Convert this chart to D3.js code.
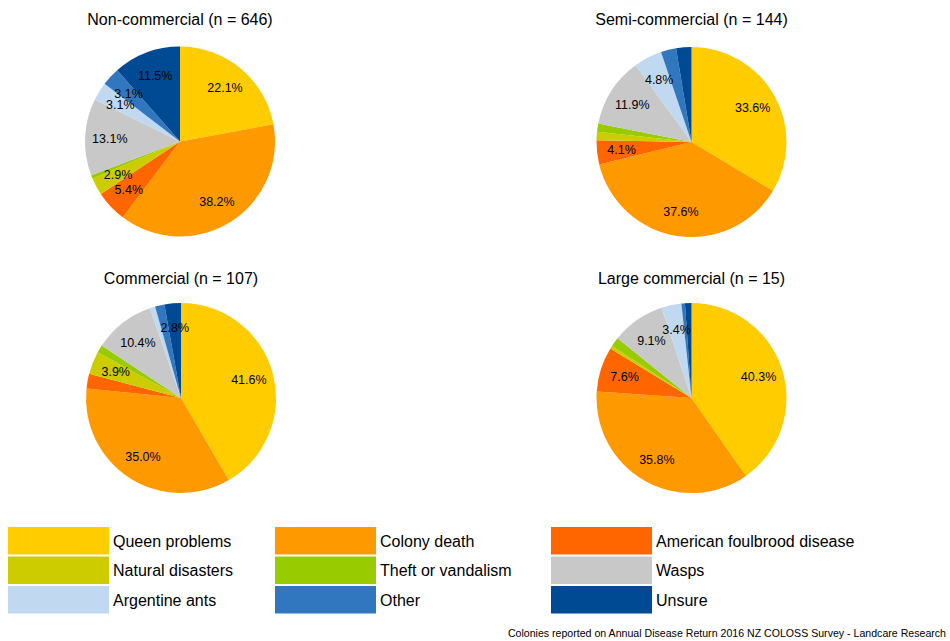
<!DOCTYPE html>
<html><head><meta charset="utf-8">
<script src="https://cdn.jsdelivr.net/npm/d3@7"></script>
<style>body{margin:0;background:#fff;}svg{display:block;font-family:"Liberation Sans",Arial,sans-serif;}</style>
</head><body><svg id="c" width="950" height="641"></svg>
<script>
const categories = ["Queen problems","Colony death","American foulbrood disease","Natural disasters","Theft or vandalism","Wasps","Argentine ants","Other","Unsure"];
const colors = ["#FFCC00","#FF9900","#FF6600","#CCCC00","#99CC00","#C8C8C8","#C0D8F0","#3077BF","#004A94"];
const panelTitles = ["Non-commercial (n = 646)","Semi-commercial (n = 144)","Commercial (n = 107)","Large commercial (n = 15)"];
const nonCommercial = [22.1,38.2,5.4,2.9,0.6,13.1,3.1,3.1,11.5];
const semiCommercial = [33.6,37.6,4.1,1.4,1.4,11.9,4.8,2.6,2.6];
const commercial = [41.6,35.0,2.5,3.9,1.3,10.4,0.9,1.6,2.8];
const largeCommercial = [40.3,35.8,7.6,0.5,1.6,9.1,3.4,0.6,1.1];
const footnote = "Colonies reported on Annual Disease Return 2016 NZ COLOSS Survey - Landcare Research";

const svg = d3.select("#c");
const panels = [
  {title: panelTitles[0], values: nonCommercial, cx: 180, cy: 141.5, ty: 25},
  {title: panelTitles[1], values: semiCommercial, cx: 691.5, cy: 142, ty: 25},
  {title: panelTitles[2], values: commercial, cx: 181, cy: 398, ty: 284},
  {title: panelTitles[3], values: largeCommercial, cx: 691.5, cy: 398, ty: 284}
];
const R = 95;
const pie = d3.pie().sort(null).value(d => d);
const arc = d3.arc().innerRadius(0).outerRadius(R);
const labelArc = d3.arc().innerRadius(R*0.74).outerRadius(R*0.74);
const color = d3.scaleOrdinal().domain(d3.range(categories.length)).range(colors);

panels.forEach(p => {
  svg.append("text").attr("x", p.cx).attr("y", p.ty).attr("text-anchor","middle")
    .attr("font-size", 16).attr("fill","#000").text(p.title);
  const g = svg.append("g").attr("transform", `translate(${p.cx},${p.cy})`);
  const arcs = pie(p.values);
  g.selectAll("path").data(arcs).join("path")
    .attr("d", arc).attr("fill", (d,i) => color(i));
  g.selectAll("text").data(arcs.filter(d => d.data >= 2.75)).join("text")
    .attr("transform", d => `translate(${labelArc.centroid(d)})`)
    .attr("text-anchor","middle").attr("dy","0.35em")
    .attr("font-size", 12.5).attr("fill","#000")
    .text(d => d3.format(".1f")(d.data) + "%");
});

// Legend
const colX = d3.scaleOrdinal().domain([0,1,2]).range([8, 275, 551]);
const rowY = d3.scaleOrdinal().domain([0,1,2]).range([527, 556.5, 586]);
const lg = svg.append("g");
categories.forEach((c, i) => {
  const col = i % 3, row = Math.floor(i / 3);
  lg.append("rect").attr("x", colX(col)).attr("y", rowY(row)).attr("width", 101).attr("height", 27.5).attr("fill", color(i));
  lg.append("text").attr("x", colX(col) + 105).attr("y", rowY(row) + 14).attr("dy","0.35em")
    .attr("font-size", 16).attr("fill","#000").text(c);
});

svg.append("text").attr("x", 946).attr("y", 637).attr("text-anchor","end")
  .attr("font-size", 10.6).attr("fill","#000").text(footnote);
</script></body></html>
